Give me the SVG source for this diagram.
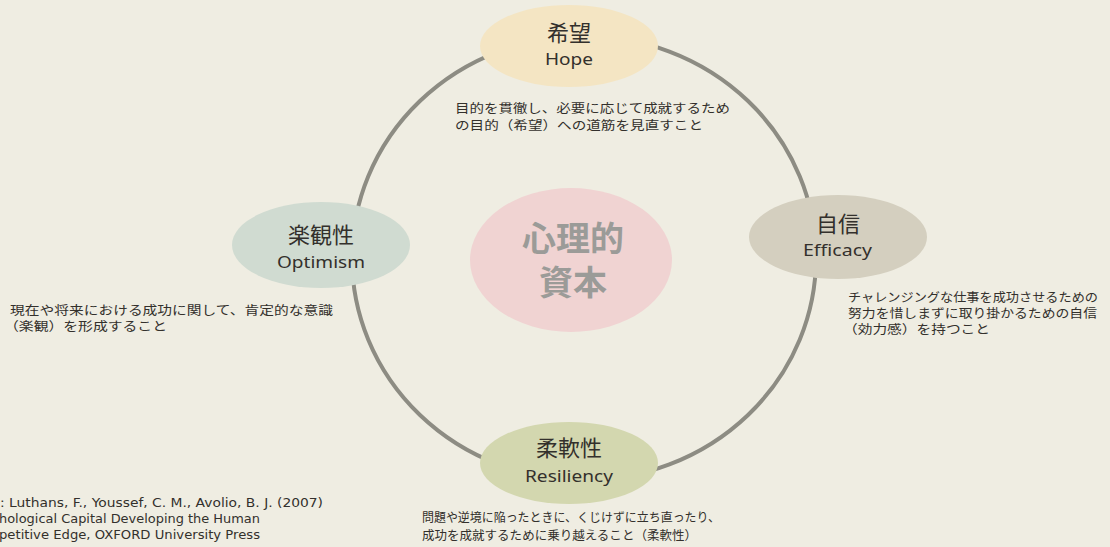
<svg xmlns="http://www.w3.org/2000/svg" width="1110" height="547" viewBox="0 0 1110 547">
<style>
.jp{font-family:"Noto Sans CJK JP","Noto Sans",sans-serif;fill:#33302c}
.title{font-size:22px;text-anchor:middle}
.en{font-family:"Noto Sans","Open Sans",sans-serif;font-size:17px;fill:#33302c}
.desc{font-size:12.5px}
.center{font-family:"Noto Sans CJK JP",sans-serif;font-size:34px;font-weight:bold;fill:#9b9b98;text-anchor:middle}
.ref{font-family:"DejaVu Sans",Verdana,sans-serif;font-size:12.5px;fill:#33302c}
.ring{fill:none;stroke:#8d8c83;stroke-width:4}
</style>
<rect width="1110" height="547" fill="#efede2"/>
<g id="connectors">
<ellipse class="ring" cx="584" cy="258" rx="232" ry="222"/>
</g>
<g id="center">
<ellipse cx="571" cy="260" rx="101" ry="72" fill="#f0d3d2"/>
<text class="center" x="573" y="251">心理的</text>
<text class="center" x="573" y="295">資本</text>
</g>
<g id="hope">
<ellipse cx="569" cy="46" rx="89" ry="41" fill="#f4e5c3"/>
<text class="jp title" x="569" y="41">希望</text>
<text class="en" x="545" y="65" textLength="48" lengthAdjust="spacingAndGlyphs">Hope</text>
<text class="jp desc" x="455" y="113" textLength="275" lengthAdjust="spacingAndGlyphs">目的を貫徹し、必要に応じて成就するため</text>
<text class="jp desc" x="455" y="130" textLength="248" lengthAdjust="spacingAndGlyphs">の目的（希望）への道筋を見直すこと</text>
</g>
<g id="optimism">
<ellipse cx="321" cy="245" rx="89" ry="43" fill="#d0dbd1"/>
<text class="jp title" x="321" y="243">楽観性</text>
<text class="en" x="277" y="268" textLength="88" lengthAdjust="spacingAndGlyphs">Optimism</text>
<text class="jp desc" x="10" y="315" textLength="323" lengthAdjust="spacingAndGlyphs">現在や将来における成功に関して、肯定的な意識</text>
<text class="jp desc" x="4" y="331" textLength="163" lengthAdjust="spacingAndGlyphs">（楽観）を形成すること</text>
</g>
<g id="efficacy">
<ellipse cx="838" cy="237" rx="89" ry="42" fill="#d4cfbf"/>
<text class="jp title" x="838" y="232">自信</text>
<text class="en" x="803" y="256" textLength="69" lengthAdjust="spacingAndGlyphs">Efficacy</text>
<text class="jp desc" x="848" y="302" textLength="250" lengthAdjust="spacingAndGlyphs">チャレンジングな仕事を成功させるための</text>
<text class="jp desc" x="848" y="318" textLength="249" lengthAdjust="spacingAndGlyphs">努力を惜しまずに取り掛かるための自信</text>
<text class="jp desc" x="843" y="334" textLength="147" lengthAdjust="spacingAndGlyphs">（効力感）を持つこと</text>
</g>
<g id="resiliency">
<ellipse cx="569" cy="463" rx="89" ry="41" fill="#d3d7af"/>
<text class="jp title" x="569" y="456">柔軟性</text>
<text class="en" x="525" y="482" textLength="88" lengthAdjust="spacingAndGlyphs">Resiliency</text>
<text class="jp desc" x="422" y="522" textLength="298" lengthAdjust="spacingAndGlyphs">問題や逆境に陥ったときに、くじけずに立ち直ったり、</text>
<text class="jp desc" x="422" y="540" textLength="275" lengthAdjust="spacingAndGlyphs">成功を成就するために乗り越えること（柔軟性）</text>
</g>
<g id="reference">
<text class="ref" x="0" y="507" textLength="323" lengthAdjust="spacingAndGlyphs">: Luthans, F., Youssef, C. M., Avolio, B. J. (2007)</text>
<text class="ref" x="-1" y="523" textLength="261" lengthAdjust="spacingAndGlyphs">hological Capital Developing the Human</text>
<text class="ref" x="-1" y="539" textLength="261" lengthAdjust="spacingAndGlyphs">petitive Edge, OXFORD University Press</text>
</g>
</svg>
